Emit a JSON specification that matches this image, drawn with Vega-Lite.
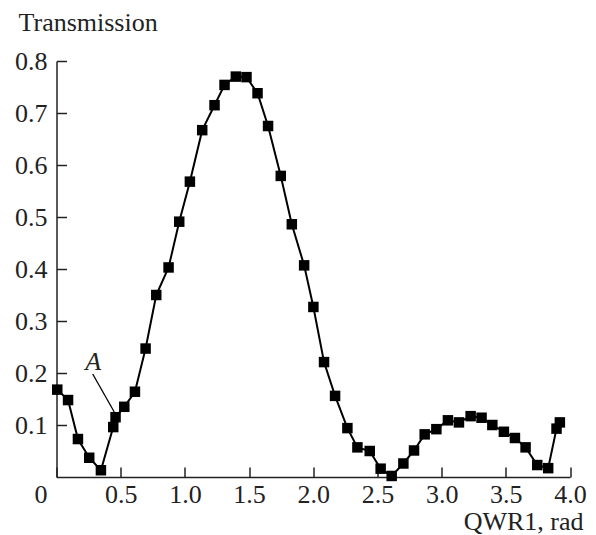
{
  "$schema": "https://vega.github.io/schema/vega-lite/v6.json",
  "autosize": "none",
  "width": 513.5,
  "height": 416,
  "padding": {"left": 56.5, "top": 61, "right": 26, "bottom": 58},
  "background": "white",
  "config": {
    "view": {"stroke": null},
    "font": "Liberation Serif",
    "axis": {
      "grid": false,
      "domainColor": "#222",
      "domainWidth": 1.5,
      "tickColor": "#222",
      "tickWidth": 1.5,
      "tickSize": -10,
      "labelFont": "Liberation Serif",
      "labelFontSize": 26,
      "labelColor": "#222",
      "titleFont": "Liberation Serif",
      "titleFontSize": 26,
      "titleFontWeight": "normal",
      "titleColor": "#222"
    }
  },
  "datasets": {
    "pts": [
      {"qwr": 0.006, "t": 0.168},
      {"qwr": 0.09, "t": 0.148},
      {"qwr": 0.167, "t": 0.073},
      {"qwr": 0.255, "t": 0.037},
      {"qwr": 0.346, "t": 0.013},
      {"qwr": 0.442, "t": 0.096},
      {"qwr": 0.46, "t": 0.115},
      {"qwr": 0.528, "t": 0.135},
      {"qwr": 0.611, "t": 0.164},
      {"qwr": 0.694, "t": 0.247},
      {"qwr": 0.777, "t": 0.35},
      {"qwr": 0.873, "t": 0.403},
      {"qwr": 0.956, "t": 0.491},
      {"qwr": 1.039, "t": 0.568},
      {"qwr": 1.135, "t": 0.667},
      {"qwr": 1.231, "t": 0.715},
      {"qwr": 1.309, "t": 0.754},
      {"qwr": 1.397, "t": 0.77},
      {"qwr": 1.48, "t": 0.769},
      {"qwr": 1.566, "t": 0.738},
      {"qwr": 1.648, "t": 0.675},
      {"qwr": 1.747, "t": 0.579},
      {"qwr": 1.833, "t": 0.486},
      {"qwr": 1.929, "t": 0.407},
      {"qwr": 2.001, "t": 0.327},
      {"qwr": 2.084, "t": 0.221},
      {"qwr": 2.17, "t": 0.156},
      {"qwr": 2.266, "t": 0.094},
      {"qwr": 2.344, "t": 0.057},
      {"qwr": 2.44, "t": 0.05},
      {"qwr": 2.525, "t": 0.016},
      {"qwr": 2.611, "t": 0.002},
      {"qwr": 2.702, "t": 0.026},
      {"qwr": 2.785, "t": 0.051},
      {"qwr": 2.868, "t": 0.082},
      {"qwr": 2.959, "t": 0.092},
      {"qwr": 3.049, "t": 0.109},
      {"qwr": 3.135, "t": 0.105},
      {"qwr": 3.226, "t": 0.117},
      {"qwr": 3.311, "t": 0.114},
      {"qwr": 3.395, "t": 0.1},
      {"qwr": 3.485, "t": 0.087},
      {"qwr": 3.571, "t": 0.075},
      {"qwr": 3.654, "t": 0.057},
      {"qwr": 3.745, "t": 0.023},
      {"qwr": 3.83, "t": 0.017},
      {"qwr": 3.895, "t": 0.093},
      {"qwr": 3.921, "t": 0.105}
    ],
    "ann": [
      {"label": "A", "tx": 0.286, "ty": 0.222, "x1": 0.282, "y1": 0.198, "x2": 0.45, "y2": 0.125}
    ]
  },
  "layer": [
    {
      "data": {"name": "pts"},
      "mark": {"type": "line", "color": "black", "strokeWidth": 2, "clip": false},
      "encoding": {
        "x": {
          "field": "qwr", "type": "quantitative",
          "scale": {"domain": [0, 4], "nice": false},
          "axis": {
            "values": [0, 0.5, 1, 1.5, 2, 2.5, 3, 3.5, 4],
            "labelExpr": "datum.value == 0 ? '0' : format(datum.value, '.1f')",
            "labelAlign": {"expr": "datum.value == 0 ? 'right' : 'center'"},
            "labelOffset": {"expr": "datum.value == 0 ? -9.5 : 0"},
            "labelPadding": 14,
            "title": "QWR1, rad",
            "titleAnchor": "end",
            "titleAlign": "right",
            "titleBaseline": "alphabetic",
            "titleX": 526.5,
            "titleY": 52
          }
        },
        "y": {
          "field": "t", "type": "quantitative",
          "scale": {"domain": [0, 0.8], "nice": false},
          "axis": {
            "values": [0.1, 0.2, 0.3, 0.4, 0.5, 0.6, 0.7, 0.8],
            "format": ".1f",
            "labelPadding": 19.5,
            "title": "Transmission",
            "titleAngle": 0,
            "titleAlign": "left",
            "titleBaseline": "alphabetic",
            "titleX": -38.5,
            "titleY": -31
          }
        }
      }
    },
    {
      "data": {"name": "pts"},
      "mark": {"type": "point", "shape": "square", "filled": true, "color": "black", "size": 110, "opacity": 1, "clip": false},
      "encoding": {
        "x": {"field": "qwr", "type": "quantitative"},
        "y": {"field": "t", "type": "quantitative"}
      }
    },
    {
      "data": {"name": "ann"},
      "mark": {"type": "rule", "color": "black", "strokeWidth": 1.3},
      "encoding": {
        "x": {"field": "x1", "type": "quantitative"},
        "y": {"field": "y1", "type": "quantitative"},
        "x2": {"field": "x2"},
        "y2": {"field": "y2"}
      }
    },
    {
      "data": {"name": "ann"},
      "mark": {"type": "text", "font": "Liberation Serif", "fontStyle": "italic", "fontSize": 26, "color": "#222", "align": "center", "baseline": "middle"},
      "encoding": {
        "x": {"field": "tx", "type": "quantitative"},
        "y": {"field": "ty", "type": "quantitative"},
        "text": {"field": "label"}
      }
    }
  ]
}
